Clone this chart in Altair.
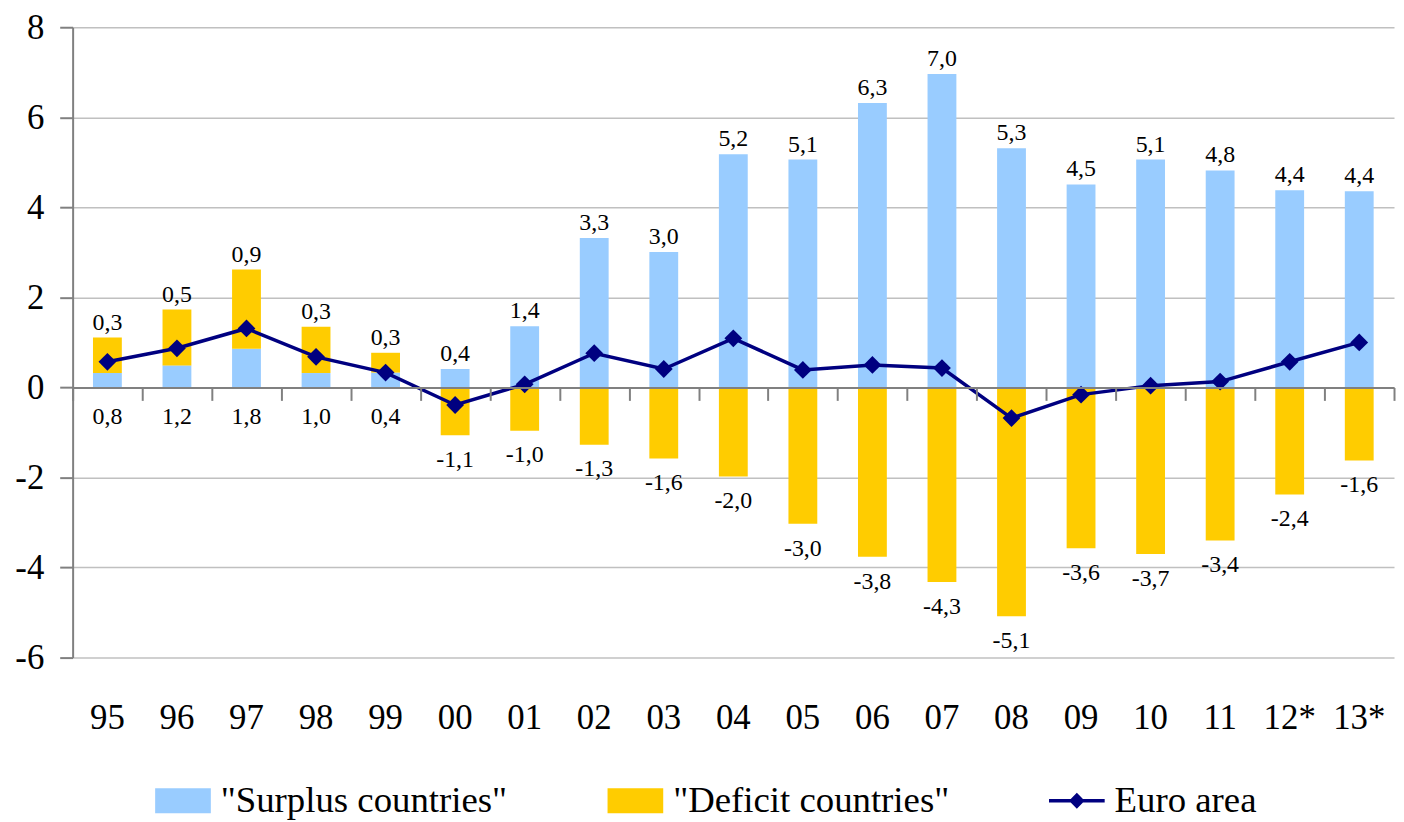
import altair as alt
import pandas as pd

years = ["95", "96", "97", "98", "99", "00", "01", "02", "03", "04",
         "05", "06", "07", "08", "09", "10", "11", "12*", "13*"]
surplus = [0.32, 0.49, 0.86, 0.32, 0.33, 0.41, 1.36, 3.32, 3.01, 5.18,
           5.06, 6.32, 6.96, 5.31, 4.51, 5.06, 4.82, 4.38, 4.36]
deficit = [0.79, 1.24, 1.76, 1.03, 0.44, -1.06, -0.96, -1.27, -1.58, -1.98,
           -3.03, -3.76, -4.32, -5.08, -3.57, -3.70, -3.40, -2.38, -1.62]
euro = [0.57, 0.87, 1.31, 0.68, 0.33, -0.39, 0.07, 0.76, 0.41, 1.09,
        0.39, 0.50, 0.43, -0.68, -0.16, 0.04, 0.13, 0.57, 1.00]

series_names = ['"Surplus countries"', '"Deficit countries"', 'Euro area']
series_colors = ['#99CCFF', '#FFCC00', '#000080']
y_ticks = [-6, -4, -2, 0, 2, 4, 6, 8]

FONT = "Liberation Serif"
W, H = 1329, 634

wide = pd.DataFrame({"year": years, "surplus": surplus, "deficit": deficit, "euro": euro})
long = pd.concat([
    pd.DataFrame({"year": years, "series": series_names[0], "value": surplus, "ord": 0}),
    pd.DataFrame({"year": years, "series": series_names[1], "value": deficit, "ord": 1}),
])

rect_path = "M-1,-0.446H1V0.446H-1Z"
line_path = ("M-1,-0.065H-0.22L0,-0.29L0.22,-0.065H1V0.065H0.22L0,0.29L-0.22,0.065H-1Z")

legend = alt.Legend(title=None, orient="none", direction="horizontal",
                    legendX=83, legendY=750, labelFont=FONT, labelFontSize=37,
                    labelColor="black", labelOffset=10, columnPadding=100,
                    symbolSize=3136, symbolStrokeWidth=0, labelLimit=600,
                    padding=0, symbolOpacity=1)

color = alt.Color("series:N", scale=alt.Scale(domain=series_names, range=series_colors),
                  legend=legend)

xscale = alt.Scale(domain=years, paddingInner=0, paddingOuter=0)
yscale = alt.Scale(domain=[-6, 8], nice=False, zero=False)
yaxis = alt.Axis(title=None, values=y_ticks, grid=True, gridColor="#C0C0C0",
                 gridWidth=1.5, domainColor="#808080", domainWidth=2,
                 tickColor="#808080", tickWidth=2, tickSize=13,
                 labelFont=FONT, labelFontSize=35, labelColor="black",
                 labelPadding=16,
                 labelExpr="replace(datum.label, '\u2212', '-')")

fmt = "replace(replace(format({v}, '.1f'), '.', ','), '\u2212', '-')"

bars = alt.Chart(long).mark_bar(width=29).encode(
    x=alt.X("year:N", sort=years, scale=xscale,
            axis=alt.Axis(title=None, orient="bottom", domain=False, ticks=False, tickSize=0,
                          labelAngle=0, labelFont=FONT, labelFontSize=35, labelColor="black",
                          labelPadding=60, labelBaseline="middle", grid=False)),
    y=alt.Y("value:Q", stack="zero", scale=yscale, axis=yaxis),
    color=color,
    order=alt.Order("ord:Q"),
)

line = alt.Chart(wide).mark_line(color="#000080", strokeWidth=3.5).encode(
    x=alt.X("year:N", sort=years, scale=xscale,
            axis=alt.Axis(title=None, orient="bottom", offset=-H * 6 / 14, labels=False,
                          domain=True, domainColor="#808080", domainWidth=2,
                          ticks=True, tickBand="extent", tickSize=13, tickColor="#808080",
                          tickWidth=2, grid=False, zindex=1)),
    y=alt.Y("euro:Q", scale=yscale, axis=yaxis),
)

points = alt.Chart(wide).mark_point(
    filled=True, size=320, opacity=1, shape="diamond", color="#000080").encode(
    x=alt.X("year:N", sort=years, scale=xscale, axis=None),
    y=alt.Y("euro:Q", scale=yscale, axis=yaxis),
)

# legend-only layer (no rows) supplying the legend symbol shapes
legend_layer = alt.Chart(wide).transform_filter("false").transform_calculate(
    series="'Euro area'").mark_point(filled=True, opacity=1).encode(
    x=alt.X("year:N", sort=years, scale=xscale, axis=None),
    y=alt.Y("euro:Q", scale=yscale, axis=yaxis),
    color=color,
    shape=alt.Shape("series:N", scale=alt.Scale(domain=series_names,
                                                range=[rect_path, rect_path, line_path]),
                    legend=legend),
)

sur_text = alt.Chart(wide).transform_calculate(
    top="datum.surplus + max(datum.deficit, 0)",
    lab=fmt.format(v="datum.surplus"),
).mark_text(font=FONT, fontSize=24, color="black", baseline="alphabetic", dy=-8).encode(
    x=alt.X("year:N", sort=years, scale=xscale, axis=None),
    y=alt.Y("top:Q", scale=yscale, axis=yaxis),
    text="lab:N",
)

def_neg_text = alt.Chart(wide).transform_filter("datum.deficit < 0").transform_calculate(
    lab=fmt.format(v="datum.deficit"),
).mark_text(font=FONT, fontSize=24, color="black", baseline="alphabetic", dy=32).encode(
    x=alt.X("year:N", sort=years, scale=xscale, axis=None),
    y=alt.Y("deficit:Q", scale=yscale, axis=yaxis),
    text="lab:N",
)

def_pos_text = alt.Chart(wide).transform_filter("datum.deficit >= 0").transform_calculate(
    lab=fmt.format(v="datum.deficit"), zero="0",
).mark_text(font=FONT, fontSize=24, color="black", baseline="alphabetic", dy=37).encode(
    x=alt.X("year:N", sort=years, scale=xscale, axis=None),
    y=alt.Y("zero:Q", scale=yscale, axis=yaxis),
    text="lab:N",
)

chart = alt.layer(bars, line, points, legend_layer, sur_text, def_neg_text,
                  def_pos_text).resolve_axis(
    x="independent"
).resolve_scale(x="shared", y="shared").properties(
    width=W, height=H, autosize="none", background="white",
    padding={"left": 65, "top": 17, "right": 2, "bottom": 163},
).configure_view(stroke="transparent", strokeWidth=0)

chart.save("out.html", embed_options={"renderer": "svg", "actions": False})
